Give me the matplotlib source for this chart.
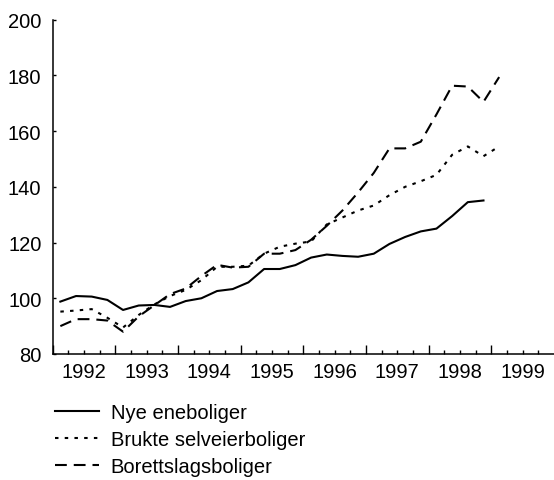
import matplotlib
matplotlib.use("Agg")
import matplotlib.pyplot as plt
import numpy as np
from matplotlib.ticker import FixedLocator, FixedFormatter

plt.rcParams["font.family"] = ["Liberation Sans", "DejaVu Sans"]
plt.rcParams["lines.scale_dashes"] = False

# Quarterly index values, 1992 Q1 onwards
nye = [98.8, 100.8, 100.6, 99.4, 95.8, 97.4, 97.6, 96.9,
       99.0, 100.0, 102.6, 103.3, 105.7, 110.5, 110.5, 111.9,
       114.6, 115.7, 115.2, 114.9, 116.0, 119.5, 122.0, 124.0,
       125.0, 129.5, 134.5, 135.1]
brukte = [95.2, 95.6, 96.1, 93.0, 89.5, 94.0, 97.8, 100.8,
          103.0, 106.5, 111.3, 111.3, 111.7, 116.0, 118.5, 119.6,
          120.4, 126.5, 129.0, 131.5, 133.3, 137.0, 140.0, 142.0,
          144.3, 151.5, 154.5, 151.0, 154.5]
borettslag = [90.0, 92.5, 92.5, 92.0, 88.0, 93.5, 97.5, 101.5,
              103.5, 108.0, 112.0, 111.0, 111.3, 116.0, 116.0, 117.3,
              121.0, 126.0, 131.5, 138.0, 145.0, 153.8, 153.8, 156.2,
              166.0, 176.3, 176.0, 170.5, 179.4]
series_names = ["Nye eneboliger", "Brukte selveierboliger", "Borettslagsboliger"]
years = list(range(1992, 2000))
y_ticks = [80, 100, 120, 140, 160, 180, 200]

def quarter_x(n):
    # points sit in the middle of each quarter
    return 1992 + (np.arange(n) + 0.5) / 4

fig = plt.figure(figsize=(5.54, 4.81), dpi=100)
ax = fig.add_axes([0.0948, 0.262, 0.9052, 0.695])

ax.plot(quarter_x(len(nye)), nye, color="black", lw=1.5, label=series_names[0])
ax.plot(quarter_x(len(brukte)), brukte, color="black", lw=1.5,
        dashes=(2.5, 4.5), label=series_names[1])
ax.plot(quarter_x(len(borettslag)), borettslag, color="black", lw=1.5,
        dashes=(8.5, 5), label=series_names[2])

ax.set_xlim(1992, 2000)
ax.set_ylim(80, 200)

# year boundaries as long ticks, quarters as short ticks, labels mid-year
ax.xaxis.set_major_locator(FixedLocator(years))
ax.xaxis.set_major_formatter(FixedFormatter([""] * len(years)))
minor_pos, minor_lab = [], []
for y in years:
    for q, lab in ((0.25, ""), (0.5, str(y)), (0.75, "")):
        minor_pos.append(y + q)
        minor_lab.append(lab)
ax.xaxis.set_minor_locator(FixedLocator(minor_pos))
ax.xaxis.set_minor_formatter(FixedFormatter(minor_lab))
ax.tick_params(axis="x", which="major", direction="in", length=6.5, width=1)
ax.tick_params(axis="x", which="minor", direction="in", length=3, width=1,
               labelsize=14.5, pad=5.5)

ax.set_yticks(y_ticks)
ax.tick_params(axis="y", direction="in", length=2.5, width=1, labelsize=14.5, pad=8)

for side in ("top", "right"):
    ax.spines[side].set_visible(False)
for side in ("left", "bottom"):
    ax.spines[side].set_linewidth(1.1)

fig.legend(loc="upper left", bbox_to_anchor=(0.1, 0.16), frameon=False,
           fontsize=14.5, handlelength=2.15, handletextpad=0.6,
           labelspacing=0.4, borderpad=0, borderaxespad=0)

fig.savefig("out.png", dpi=100)
